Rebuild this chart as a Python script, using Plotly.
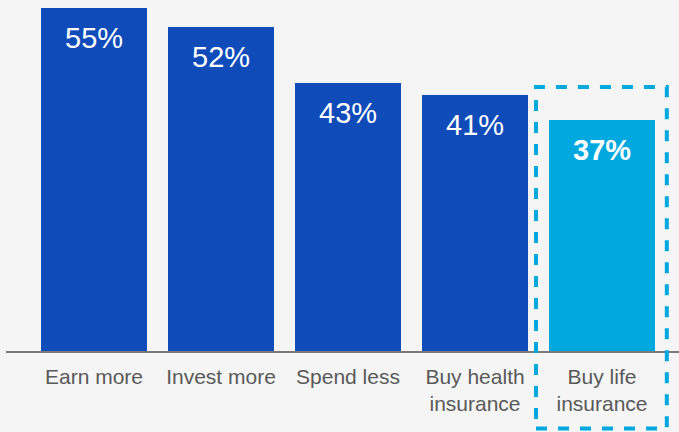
import plotly.graph_objects as go

# Share of respondents planning each financial action
categories = ["Earn more", "Invest more", "Spend less", "Buy health<br>insurance", "Buy life<br>insurance"]
values = [55, 52, 43, 41, 37]
highlight = [False, False, False, False, True]

DARK_BLUE = "#0f4cba"
LIGHT_BLUE = "#00a8e0"
BG = "#f5f5f5"
FONT = "Liberation Sans, Arial, sans-serif"

W, H = 679, 432
margin = dict(l=6, r=0, t=0, b=81)
x_range = [-0.693, 4.606]
y_range = [0, 56.25]

colors = [LIGHT_BLUE if h else DARK_BLUE for h in highlight]

fig = go.Figure(
    go.Bar(
        x=list(range(len(categories))),
        y=values,
        width=0.835,
        marker=dict(color=colors, line=dict(width=0)),
        hoverinfo="skip",
    )
)

# Percentage labels inside the top of each bar
for i, (v, h) in enumerate(zip(values, highlight)):
    fig.add_annotation(
        x=i, y=v, xref="x", yref="y",
        text=f"<b>{v}%</b>" if h else f"{v}%",
        showarrow=False, yanchor="middle", yshift=-30,
        font=dict(family=FONT, size=29, color="white"),
    )


def to_paper_x(xv):
    return (xv - x_range[0]) / (x_range[1] - x_range[0])


def to_paper_y(yv):
    return (yv - y_range[0]) / (y_range[1] - y_range[0])


# Dashed box around the highlighted bar and its label
for i, h in enumerate(highlight):
    if h:
        fig.add_shape(
            type="rect", xref="paper", yref="paper",
            x0=to_paper_x(i - 0.52), x1=to_paper_x(i + 0.51),
            y0=to_paper_y(-12.4), y1=to_paper_y(values[i] + 5.3),
            line=dict(color=LIGHT_BLUE, width=4, dash="11px,11px"),
            fillcolor="rgba(0,0,0,0)", layer="above",
        )

fig.update_layout(
    width=W, height=H,
    margin=margin,
    paper_bgcolor=BG, plot_bgcolor=BG,
    showlegend=False,
    bargap=0,
    xaxis=dict(
        range=x_range,
        tickmode="array",
        tickvals=list(range(len(categories))),
        ticktext=categories,
        ticks="",
        ticklabelstandoff=6,
        showgrid=False, zeroline=False,
        showline=True, linecolor="#7a7a7a", linewidth=1.5,
        tickfont=dict(family=FONT, size=21, color="#595959"),
        fixedrange=True,
    ),
    yaxis=dict(range=y_range, visible=False, fixedrange=True),
)

fig.write_html("out.html", config={"displayModeBar": False})
